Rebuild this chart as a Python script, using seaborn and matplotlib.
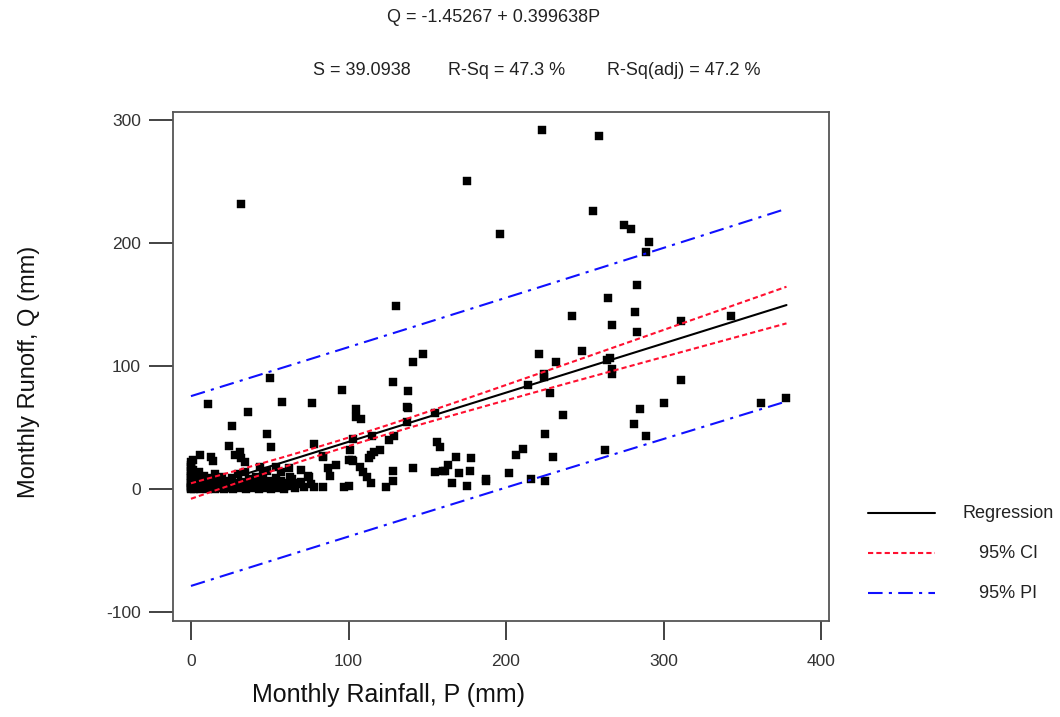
import numpy as np
import pandas as pd
import matplotlib
matplotlib.use("Agg")
import matplotlib.pyplot as plt
import seaborn as sns
from matplotlib.lines import Line2D

# Monthly rainfall P (mm) and runoff Q (mm).
# dense cluster near the origin
cluster_rain = [0, 0, 0, 0, 0, 0, 0, 0, 0, 0,
                0, 0, 0, 1, 1, 1, 2, 2, 2, 3,
                3, 4, 4, 5, 5, 6, 6, 7, 8, 8,
                9, 10, 10, 11, 12, 12, 13, 14, 15, 15,
                16, 17, 18, 19, 20, 20, 21, 22, 23, 24,
                25, 26, 27, 28, 29, 30, 31, 32, 33, 34,
                35, 36, 37, 38, 39, 40, 41, 42, 43, 44,
                45, 46, 47, 48, 49, 50, 51, 52, 53, 54,
                55, 56, 57, 58, 59, 60, 62, 64, 66, 68,
                70, 72, 74]
cluster_runoff = [0, 1, 2, 3, 5, 7, 9, 11, 13, 15,
                  18, 20, 22, 4, 8, 16, 0, 6, 12, 2,
                  10, 1, 5, 3, 14, 0, 8, 2, 5, 11,
                  1, 3, 7, 0, 4, 9, 2, 6, 0, 12,
                  3, 8, 1, 5, 2, 10, 0, 4, 7, 1,
                  3, 9, 0, 5, 2, 12, 1, 6, 3, 14,
                  0, 4, 8, 2, 1, 5, 10, 3, 0, 6,
                  2, 12, 4, 1, 7, 3, 0, 5, 2, 9,
                  1, 4, 7, 2, 0, 5, 3, 8, 1, 4,
                  6, 2, 11]

# low rainfall, scattered
low_rain = [1, 6, 13, 14, 28, 31, 32, 34, 11, 26,
            24, 36, 48, 50, 51, 44, 48, 54, 57, 62,
            63, 67, 70, 75, 76, 78, 78, 84, 84, 87,
            88, 92, 97, 100, 103, 96, 102, 58, 59, 77,
            32]
low_runoff = [24, 28, 26, 23, 28, 30, 25, 22, 69, 51,
              35, 63, 45, 90, 34, 18, 15, 18, 14, 17,
              10, 5, 16, 10, 4, 37, 2, 27, 2, 17,
              11, 20, 2, 3, 23, 81, 24, 71, 2, 70,
              232]

# mid rainfall
mid_rain = [101, 103, 105, 105, 108, 107, 109, 112, 114, 113,
            115, 116, 120, 124, 126, 128, 128, 129, 128, 137,
            138, 138, 137, 141, 141, 147, 130, 155, 155, 156,
            158, 160, 161, 163, 166, 168, 170, 175, 177, 178,
            187, 175, 114, 100, 84]
mid_runoff = [32, 41, 65, 59, 57, 18, 14, 10, 5, 25,
              43, 30, 32, 2, 40, 87, 15, 43, 7, 67,
              80, 66, 55, 17, 103, 110, 149, 62, 14, 38,
              34, 15, 15, 20, 5, 26, 13, 3, 15, 25,
              8, 250, 28, 24, 26]

# high rainfall
high_rain = [187, 196, 202, 206, 211, 214, 216, 221, 223, 224,
             224, 225, 225, 228, 232, 236, 242, 248, 255, 259,
             263, 265, 267, 266, 267, 267, 275, 279, 281, 283,
             282, 283, 285, 289, 289, 291, 300, 311, 311, 343,
             362, 378, 230, 264]
high_runoff = [7, 207, 13, 28, 33, 85, 8, 110, 292, 94,
               91, 45, 7, 78, 103, 60, 141, 112, 226, 287,
               32, 155, 133, 107, 98, 94, 215, 211, 53, 166,
               144, 128, 65, 43, 193, 201, 70, 89, 137, 141,
               70, 74, 26, 105]

# Fitted model from the reference (Minitab fitted line plot)
intercept = -1.45267
slope = 0.399638
s_resid = 39.0938
n_obs = 500
x_mean = 101.0
sxx = 2.16e6
t_crit = 1.965

df = pd.DataFrame({
    "P": cluster_rain + low_rain + mid_rain + high_rain,
    "Q": cluster_runoff + low_runoff + mid_runoff + high_runoff,
})

x_fit = np.linspace(0, df["P"].max(), 200)
y_fit = intercept + slope * x_fit
se_fit = s_resid * np.sqrt(1.0 / n_obs + (x_fit - x_mean) ** 2 / sxx)
se_pred = s_resid * np.sqrt(1.0 + 1.0 / n_obs + (x_fit - x_mean) ** 2 / sxx)

sns.set_style("white")
plt.rcParams["font.family"] = ["Liberation Sans", "DejaVu Sans"]
plt.rcParams["axes.unicode_minus"] = False

fig = plt.figure(figsize=(10.6, 7.17), dpi=100)
ax = fig.add_axes([0.1632, 0.1339, 0.6189, 0.7092])

sns.scatterplot(data=df, x="P", y="Q", ax=ax, marker="s", s=32,
                color="black", edgecolor="black", linewidth=0.3, zorder=3)

fit_lw = 1.5
ci_style = (0, (2.5, 1.5))
pi_style = (0, (7, 3, 1.5, 3))
sns.lineplot(x=x_fit, y=y_fit, ax=ax, color="black", lw=fit_lw, zorder=4)
for sign in (1, -1):
    ax.plot(x_fit, y_fit + sign * t_crit * se_fit, color="#ff1030",
            lw=fit_lw, linestyle=ci_style, zorder=4)
    ax.plot(x_fit, y_fit + sign * t_crit * se_pred, color="#1010ff",
            lw=fit_lw, linestyle=pi_style, zorder=4)

ax.set_xlim(-11.4, 405)
ax.set_ylim(-107, 306)
ax.set_xticks([0, 100, 200, 300, 400])
ax.set_yticks([-100, 0, 100, 200, 300])
ax.tick_params(axis="y", direction="out", length=17, width=1.2,
               color="#222222", labelsize=12.5, labelcolor="#333333", pad=6, left=True)
ax.tick_params(axis="x", direction="out", length=14, width=1.2,
               color="#222222", labelsize=12.5, labelcolor="#333333", pad=10, bottom=True)
for spine in ax.spines.values():
    spine.set_visible(True)
    spine.set_color("#555555")
    spine.set_linewidth(1.3)

ax.set_xlabel("Monthly Rainfall, P (mm)", fontsize=18, color="#111111")
ax.set_ylabel("Monthly Runoff, Q (mm)", fontsize=17, color="#111111")
ax.xaxis.set_label_coords(0.329, -0.122)
ax.yaxis.set_label_coords(-0.203, 0.49)

fig.text(387 / 1060, 0.976, "Q = -1.45267 + 0.399638P", ha="left", va="center",
         fontsize=13, color="#222222")
for xpx, txt in [(313, "S = 39.0938"), (448, "R-Sq = 47.3 %"),
                 (607, "R-Sq(adj) = 47.2 %")]:
    fig.text(xpx / 1060, 0.902, txt, ha="left", va="center",
             fontsize=13, color="#222222")

# legend drawn to the right of the plot, text centred as in Minitab
legend_rows = [
    ("Regression", "black", "-"),
    ("95% CI", "#ff1030", ci_style),
    ("95% PI", "#1010ff", pi_style),
]
for i, (label, col, ls) in enumerate(legend_rows):
    yy = 0.2845 - i * 0.0558
    fig.add_artist(Line2D([0.8189, 0.8821], [yy, yy], color=col, lw=fit_lw,
                          linestyle=ls, transform=fig.transFigure))
    fig.text(0.951, yy, label, ha="center", va="center", fontsize=13,
             color="#222222")

fig.savefig("out.png", dpi=100)
